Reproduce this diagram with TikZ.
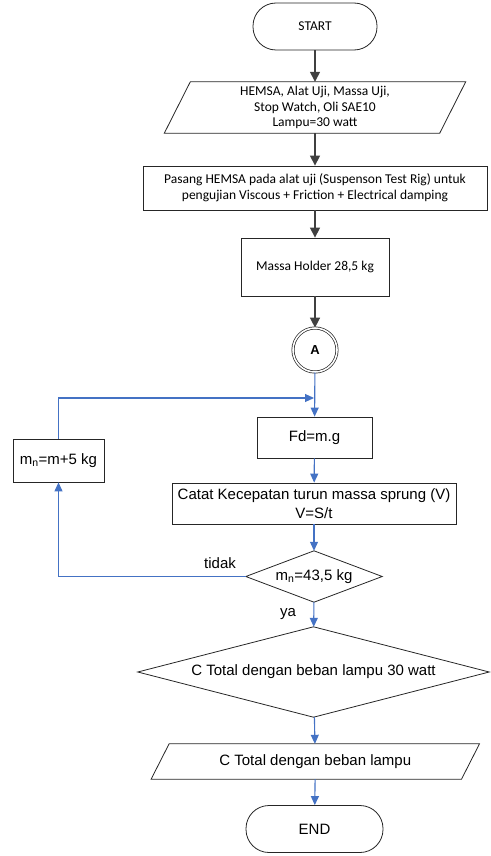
\documentclass[tikz,border=0pt]{standalone}
\usepackage{fontspec}
\setmainfont{Carlito}
\newfontfamily\arialf{Liberation Sans}
\usetikzlibrary{arrows.meta,calc}
\definecolor{darkline}{HTML}{404040}
\definecolor{blueline}{HTML}{4472C4}
\definecolor{boxline}{HTML}{262626}
\begin{document}
\begin{tikzpicture}[x=1pt,y=-1pt,
  cal/.style={font=\fontsize{13.5}{15.8}\selectfont},
  ari/.style={font=\arialf\fontsize{15}{19}\selectfont},
  base/.style={inner sep=0pt,align=center,minimum width=#1},
  terminal/.style={draw=boxline,line width=0.8pt,rectangle,rounded corners=23pt,inner sep=0pt,minimum height=47pt},
  procbox/.style={draw=boxline,line width=0.8pt,rectangle,inner sep=0pt,align=center},
  ghost/.style={rectangle,inner sep=0pt,align=center},
  shapeline/.style={draw=boxline,line width=0.8pt},
  darkarrow/.style={draw=darkline,line width=1.4pt,-{Triangle[width=10pt,length=10pt]}},
  bluearrow/.style={draw=blueline,line width=1.1pt,-{Triangle[width=8pt,length=9pt]}},
  lbl/.style={ari,inner sep=0pt}
]
\path[use as bounding box] (0,0) rectangle (490,856);

% START
\node[terminal,cal,minimum width=124pt] (start) at (315,26.5) {START};

% input parallelogram 1
\node[ghost,cal,minimum width=275pt,minimum height=51pt] (in1) at (315,107.5)
  {HEMSA, Alat Uji, Massa Uji,\\Stop Watch, Oli SAE10\\Lampu=30 watt};
\draw[shapeline] ($(in1.south west)+(-13,0)$) -- ($(in1.north west)+(13,0)$)
  -- ($(in1.north east)+(13,0)$) -- ($(in1.south east)+(-13,0)$) -- cycle;

% process box 2
\node[procbox,cal,minimum width=344pt,minimum height=44pt] (pasang) at (315,188)
  {Pasang HEMSA pada alat uji (Suspenson Test Rig) untuk\\pengujian Viscous + Friction + Electrical damping};

% massa holder
\node[procbox,cal,minimum width=148pt,minimum height=58pt] (holder) at (315,267)
  {Massa Holder 28,5 kg};

% connector A
\node[circle,draw=boxline,line width=0.7pt,double,double distance=1.6pt,minimum size=44pt,inner sep=0pt,
  font=\arialf\bfseries\fontsize{13}{15}\selectfont] (A) at (315,350) {A};

% Fd
\node[procbox,ari,minimum width=115pt,minimum height=41pt] (fd) at (314.5,437.5) {Fd=m.g};

% mn box
\node[procbox,ari,minimum width=91pt,minimum height=43pt] (mn) at (58.5,460.5)
  {m\textsubscript{n}=m+5 kg};

% catat
\node[procbox,ari,minimum width=284pt,minimum height=41pt] (catat) at (314,503.5)
  {Catat Kecepatan turun massa sprung (V)\\V=S/t};

% decision 1
\node[ghost,ari,minimum width=136pt,minimum height=51pt] (dec1) at (314,576.5)
  {m\textsubscript{n}=43,5 kg};
\draw[shapeline] (dec1.north) -- (dec1.east) -- (dec1.south) -- (dec1.west) -- cycle;

% decision 2
\node[ghost,ari,minimum width=351pt,minimum height=90pt] (dec2) at (313.5,672)
  {C Total dengan beban lampu 30 watt};
\draw[shapeline] (dec2.north) -- (dec2.east) -- (dec2.south) -- (dec2.west) -- cycle;

% output parallelogram 2
\node[ghost,ari,minimum width=310pt,minimum height=35pt] (out2) at (315.3,761.5)
  {C Total dengan beban lampu};
\draw[shapeline] ($(out2.south west)+(-9,0)$) -- ($(out2.north west)+(9,0)$)
  -- ($(out2.north east)+(9,0)$) -- ($(out2.south east)+(-9,0)$) -- cycle;

% END
\node[terminal,ari,minimum width=137pt] (endn) at (314.5,829) {END};

% labels
\node[lbl] (tidak) at (220,563) {tidak};
\node[lbl] (ya) at (288,614) {ya};

% dark connectors
\draw[darkarrow] (start) -- (in1);
\draw[darkarrow] (in1) -- (pasang);
\draw[darkarrow] (pasang) -- (holder);
\draw[darkarrow] (holder) -- (A);

% blue connectors
\coordinate (join) at (314,398);
\draw[bluearrow] (A) -- (fd);
\draw[bluearrow] (fd) -- (catat);
\draw[bluearrow] (catat) -- (dec1);
\draw[bluearrow] (dec1) -- (dec2);
\draw[bluearrow] (dec2) -- (out2);
\draw[bluearrow] (out2) -- (endn);
\draw[bluearrow] (dec1.west) -| (mn.south);
\draw[bluearrow] (mn.north) |- (join);
\end{tikzpicture}
\end{document}
